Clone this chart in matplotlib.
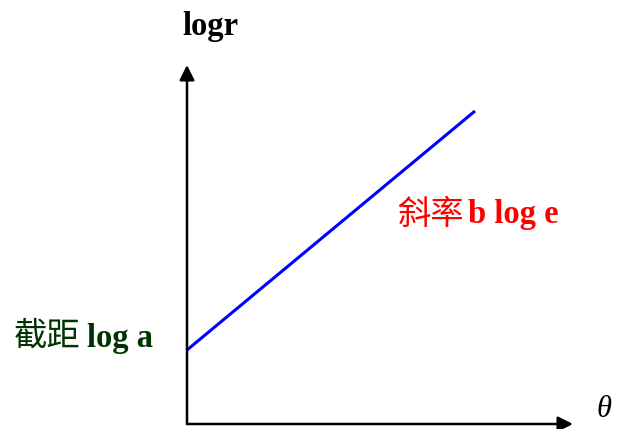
import matplotlib.pyplot as plt

# straight line in the (theta, log r) plane, in plot units with the origin at the axes corner
theta = [0, 288]
logr = [74, 313]

x_axis_end = 386
y_axis_end = 359

serif = ['Liberation Serif', 'Noto Sans CJK SC']
cjk = ['Noto Sans CJK SC', 'Liberation Serif']

fig = plt.figure(figsize=(6.21, 4.29), dpi=100)
ax = fig.add_axes([0, 0, 1, 1])
ax.set_xlim(-187, 434)
ax.set_ylim(-5, 424)
ax.axis('off')

arrow = dict(arrowstyle='-|>,head_length=0.9,head_width=0.45', color='black', lw=1.8,
             shrinkA=0, shrinkB=0)
ax.annotate('', xy=(x_axis_end, 0), xytext=(0, 0), arrowprops=arrow)
ax.annotate('', xy=(0, y_axis_end), xytext=(0, 0), arrowprops=arrow)

ax.plot(theta, logr, color='#0000ff', lw=2.2, solid_capstyle='butt')

ax.text(23.5, 389, 'logr', fontsize=23.5, fontweight='bold', family=serif,
        ha='center', va='baseline')
ax.text(417, 7, 'θ', fontsize=22, style='italic', family=serif,
        ha='center', va='baseline')

# slope label: Chinese in regular weight, formula part in bold serif
ax.text(210, 200, '斜率', fontsize=24, family=cjk, color='#ff0000',
        ha='left', va='baseline')
ax.text(281, 201, 'b log e', fontsize=23.5, fontweight='bold', family=serif,
        color='#ff0000', ha='left', va='baseline')

# intercept label
ax.text(-173, 78, '截距', fontsize=24, family=cjk, color='#003300',
        ha='left', va='baseline')
ax.text(-100, 77, 'log a', fontsize=23.5, fontweight='bold', family=serif,
        color='#003300', ha='left', va='baseline')

fig.savefig('out.png', dpi=100, facecolor='white')
